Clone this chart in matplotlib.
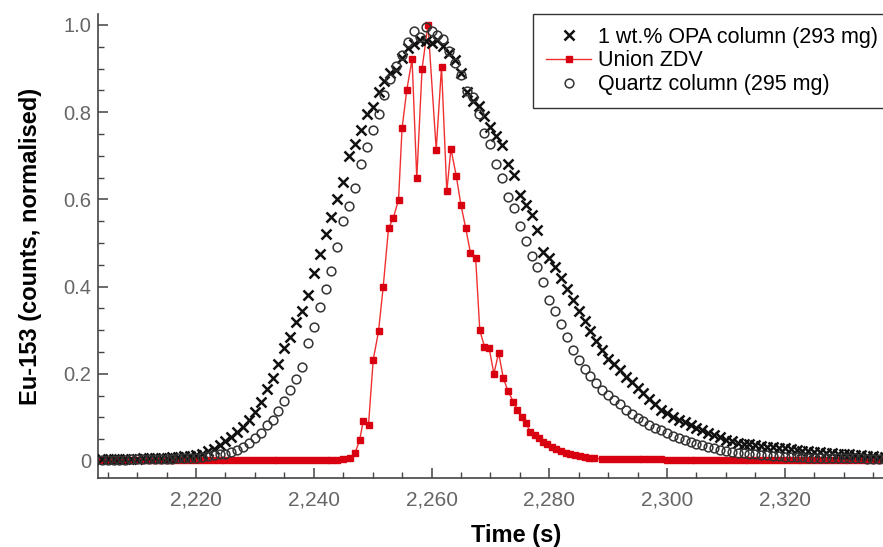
import numpy as np
import matplotlib
matplotlib.use("Agg")
import matplotlib.pyplot as plt
from matplotlib.ticker import MultipleLocator, FuncFormatter

plt.rcParams['font.family'] = ['Liberation Sans', 'DejaVu Sans']

# 1 s sampling of the two column runs
t_col = np.arange(2204, 2338)

# 1 wt.% OPA column (293 mg)
opa = [0.004, 0.004, 0.005, 0.004, 0.005, 0.005,                              # 2204-2209
       0.005, 0.006, 0.006, 0.007, 0.007, 0.008, 0.009, 0.010, 0.011, 0.012,  # 2210
       0.013, 0.017, 0.022, 0.028, 0.036, 0.045, 0.054, 0.066, 0.079, 0.094,  # 2220
       0.112, 0.136, 0.165, 0.190, 0.222, 0.258, 0.285, 0.318, 0.345, 0.380,  # 2230
       0.430, 0.475, 0.520, 0.560, 0.600, 0.640, 0.700, 0.728, 0.760, 0.795,  # 2240
       0.812, 0.845, 0.872, 0.890, 0.897, 0.925, 0.948, 0.957, 0.966, 0.962,  # 2250
       0.958, 0.966, 0.952, 0.935, 0.920, 0.890, 0.845, 0.825, 0.815, 0.790,  # 2260
       0.765, 0.745, 0.725, 0.680, 0.655, 0.610, 0.588, 0.565, 0.530, 0.480,  # 2270
       0.465, 0.445, 0.420, 0.395, 0.370, 0.345, 0.320, 0.297, 0.275, 0.255,  # 2280
       0.235, 0.222, 0.208, 0.193, 0.180, 0.168, 0.155, 0.142, 0.130, 0.118,  # 2290
       0.110, 0.102, 0.095, 0.089, 0.082, 0.076, 0.070, 0.064, 0.059, 0.054,  # 2300
       0.049, 0.045, 0.042, 0.040, 0.038, 0.036, 0.034, 0.033, 0.031, 0.030,  # 2310
       0.029, 0.027, 0.026, 0.024, 0.023, 0.021, 0.020, 0.019, 0.018, 0.017,  # 2320
       0.016, 0.015, 0.014, 0.013, 0.012, 0.011, 0.010, 0.009]                # 2330-2337

# Quartz column (295 mg)
quartz = [0.003, 0.003, 0.003, 0.003, 0.003, 0.004,                              # 2204-2209
          0.004, 0.004, 0.004, 0.004, 0.005, 0.005, 0.005, 0.006, 0.006, 0.007,  # 2210
          0.008, 0.009, 0.011, 0.013, 0.015, 0.017, 0.021, 0.026, 0.032, 0.041,  # 2220
          0.052, 0.065, 0.082, 0.094, 0.115, 0.138, 0.162, 0.188, 0.216, 0.270,  # 2230
          0.308, 0.352, 0.395, 0.435, 0.490, 0.550, 0.585, 0.625, 0.680, 0.720,  # 2240
          0.760, 0.795, 0.840, 0.875, 0.905, 0.930, 0.960, 0.985, 0.972, 0.996,  # 2250
          0.985, 0.976, 0.968, 0.940, 0.912, 0.885, 0.848, 0.835, 0.795, 0.752,  # 2260
          0.728, 0.680, 0.650, 0.605, 0.580, 0.540, 0.505, 0.470, 0.445, 0.410,  # 2270
          0.370, 0.345, 0.315, 0.285, 0.255, 0.232, 0.212, 0.196, 0.178, 0.163,  # 2280
          0.152, 0.140, 0.130, 0.118, 0.108, 0.099, 0.091, 0.083, 0.076, 0.070,  # 2290
          0.064, 0.058, 0.052, 0.048, 0.044, 0.040, 0.036, 0.032, 0.029, 0.026,  # 2300
          0.023, 0.021, 0.019, 0.018, 0.017, 0.015, 0.014, 0.013, 0.012, 0.011,  # 2310
          0.010, 0.010, 0.009, 0.009, 0.008, 0.008, 0.008, 0.007, 0.007, 0.007,  # 2320
          0.006, 0.006, 0.006, 0.006, 0.005, 0.005, 0.005, 0.005]                # 2330-2337

# Union ZDV
zdv_t_base = np.arange(2204, 2246)
zdv_base = [0.003, 0.003, 0.002, 0.003, 0.003, 0.002, 0.003, 0.003, 0.002, 0.003,
            0.003, 0.003, 0.002, 0.003, 0.003, 0.002, 0.003, 0.003, 0.003, 0.002,
            0.003, 0.003, 0.002, 0.003, 0.003, 0.003, 0.002, 0.003, 0.003, 0.002,
            0.003, 0.003, 0.003, 0.002, 0.003, 0.003, 0.003, 0.002, 0.003, 0.003,
            0.003, 0.004]
zdv_t_peak = [2246.2, 2247.0, 2247.8, 2248.4, 2249.3, 2250.1, 2251.0, 2251.8, 2252.7, 2253.5,
              2254.4, 2255.0, 2255.8, 2256.7, 2257.5, 2258.4, 2259.4, 2260.8, 2261.7, 2262.6,
              2263.3, 2264.2, 2265.0, 2265.8, 2266.6, 2267.5, 2268.2, 2269.0, 2269.8, 2270.6,
              2271.4, 2272.2, 2273.0, 2273.9, 2274.6, 2275.3, 2276.0, 2276.8, 2277.5, 2278.2,
              2279.0, 2279.7, 2280.4, 2281.2, 2282.0, 2282.8, 2283.6, 2284.4, 2285.2, 2286.0,
              2286.8, 2287.6]
zdv_peak = [0.006, 0.018, 0.048, 0.092, 0.083, 0.232, 0.297, 0.400, 0.534, 0.557,
            0.599, 0.763, 0.851, 0.921, 0.648, 0.900, 1.000, 0.714, 0.904, 0.618,
            0.716, 0.654, 0.587, 0.535, 0.478, 0.465, 0.300, 0.262, 0.258, 0.200,
            0.248, 0.190, 0.160, 0.136, 0.118, 0.102, 0.087, 0.067, 0.060, 0.052,
            0.044, 0.038, 0.032, 0.027, 0.023, 0.019, 0.016, 0.013, 0.011, 0.009,
            0.007, 0.006]
zdv_t_tail = np.arange(2289, 2338)
zdv_tail = [0.005, 0.005, 0.005, 0.005, 0.004, 0.004, 0.004, 0.004, 0.004, 0.004,
            0.004, 0.003, 0.003, 0.003, 0.003, 0.003, 0.003, 0.003, 0.003, 0.003,
            0.003, 0.003, 0.003, 0.002, 0.002, 0.002, 0.002, 0.002, 0.002, 0.002,
            0.002, 0.002, 0.002, 0.002, 0.002, 0.002, 0.002, 0.002, 0.002, 0.002,
            0.002, 0.002, 0.002, 0.002, 0.002, 0.002, 0.002, 0.002, 0.002]

zdv_t = np.concatenate([zdv_t_base, zdv_t_peak, zdv_t_tail])
zdv = np.concatenate([zdv_base, zdv_peak, zdv_tail])

fig = plt.figure(figsize=(8.83, 5.47), dpi=100)
# axes runs a little past the right edge of the picture (cropped original)
ax = fig.add_axes([98 / 883, 69 / 547, 798 / 883, 464 / 547])

l_zdv, = ax.plot(zdv_t, zdv, '-s', color='#f03030', lw=1.0, ms=4.8,
                 mfc='#d80010', mec='#d80010', label='Union ZDV', zorder=2)
l_opa, = ax.plot(t_col, opa, 'x', color='#111111', ms=7.5, mew=1.8,
                 label='1 wt.% OPA column (293 mg)', zorder=3)
l_qz, = ax.plot(t_col, quartz, 'o', mfc='none', mec='#333333', ms=6.3, mew=1.1,
                label='Quartz column (295 mg)', zorder=3)

ax.set_xlim(2203.35, 2338.9)
ax.set_ylim(-0.039, 1.025)

ax.xaxis.set_major_locator(MultipleLocator(20))
ax.xaxis.set_minor_locator(MultipleLocator(5))
ax.yaxis.set_major_locator(MultipleLocator(0.2))
ax.yaxis.set_minor_locator(MultipleLocator(0.05))
ax.xaxis.set_major_formatter(FuncFormatter(lambda v, p: f'{v:,.0f}'))
ax.yaxis.set_major_formatter(FuncFormatter(lambda v, p: '0' if abs(v) < 1e-9 else f'{v:.1f}'))

for s in ['top', 'right']:
    ax.spines[s].set_visible(False)
for s in ['left', 'bottom']:
    ax.spines[s].set_color('#444444')
    ax.spines[s].set_linewidth(1.2)

ax.tick_params(which='both', direction='in', colors='#444444', labelcolor='#666666')
ax.tick_params(axis='x', labelsize=15, pad=9)
ax.tick_params(axis='y', labelsize=14.5, pad=5)
ax.tick_params(which='major', length=7, width=1.1)
ax.tick_params(which='minor', length=4, width=1.0)

ax.set_xlabel('Time (s)', fontsize=17, fontweight='bold')
ax.set_ylabel('Eu-153 (counts, normalised)', fontsize=17, fontweight='bold')
ax.xaxis.set_label_coords((516 - 98) / 798, -0.1)
ax.yaxis.set_label_coords(-0.07, 0.5)

leg = ax.legend(handles=[l_opa, l_zdv, l_qz], loc='upper left',
                bbox_to_anchor=(533 / 883, 1 - 14 / 547), bbox_transform=fig.transFigure,
                borderaxespad=0, fontsize=15.5, frameon=True, fancybox=False,
                edgecolor='#333333', framealpha=1, handlelength=2.1,
                handletextpad=0.3, labelspacing=0.12, borderpad=0.6)
leg.get_frame().set_linewidth(1.0)

fig.savefig('out.png', dpi=100)
